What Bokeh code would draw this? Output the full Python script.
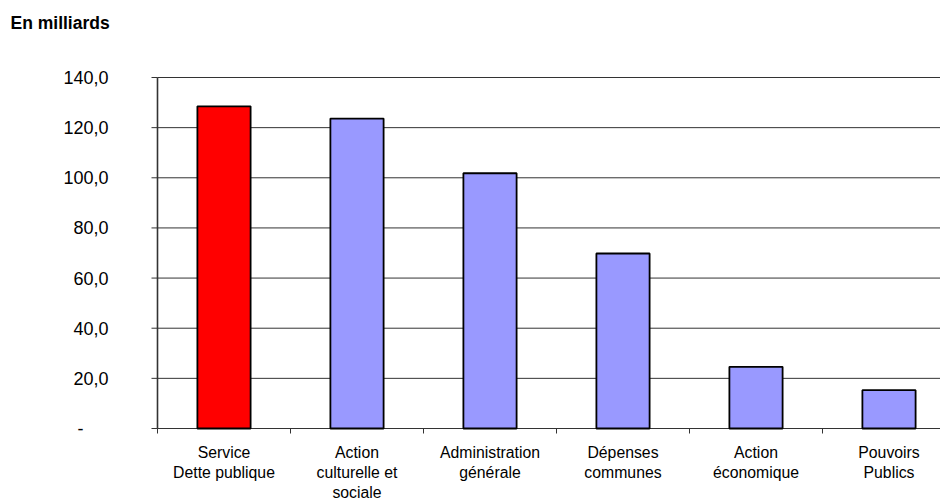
from bokeh.plotting import figure
from bokeh.models import ColumnDataSource, Range1d
from bokeh.core.properties import value
from bokeh.embed import file_html
from bokeh.resources import INLINE

# Budget by function, in billions
categories = [
    "Service\nDette publique",
    "Action\nculturelle et\nsociale",
    "Administration\ngénérale",
    "Dépenses\ncommunes",
    "Action\néconomique",
    "Pouvoirs\nPublics",
]
values = [128.5, 123.6, 101.8, 69.8, 24.6, 15.3]
colors = ["#FF0000", "#9999FF", "#9999FF", "#9999FF", "#9999FF", "#9999FF"]
y_ticks = [0, 20, 40, 60, 80, 100, 120, 140]
y_labels = ["-\u2007\u2007\u2008", "20,0", "40,0", "60,0", "80,0", "100,0", "120,0", "140,0"]
title = "En milliards"

FONT = "Liberation Sans"
AXIS = "#333333"

n = len(categories)
centers = [i + 0.5 for i in range(n)]
bars = ColumnDataSource(dict(x=centers, top=values, color=colors, name=categories))
ticks = ColumnDataSource(dict(y=y_ticks, label=y_labels))

# Scales: one category = 133 px, 140 units = 351 px; the plot body starts
# 157 px from the left and 77 px from the top of the canvas.
PX_X = 133
PX_Y = 351 / 140
x_end = n  # right edge of the last category
y_top = max(y_ticks)

p = figure(
    width=940, height=499,
    output_backend="svg", toolbar_location=None,
    x_range=Range1d(-157 / PX_X, 783 / PX_X),
    y_range=Range1d(-71 / PX_Y, y_top + 77 / PX_Y),
    x_axis_location=None, y_axis_location=None,
    min_border=0,
)
p.outline_line_color = None
p.background_fill_color = "white"
p.border_fill_color = "white"
p.xgrid.grid_line_color = None
p.ygrid.grid_line_color = None

# horizontal gridlines (the one at 0 is the category axis line)
p.segment(x0=0, y0="y", x1=x_end, y1="y", source=ticks,
          line_color=AXIS, line_width=1)

# value axis line and its outward ticks
p.segment(x0=[0], y0=[0], x1=[0], y1=[y_top], line_color=AXIS, line_width=1.6)
p.segment(x0=-6 / PX_X, y0="y", x1=0, y1="y", source=ticks,
          line_color=AXIS, line_width=1)

# category separators below the axis
bounds = list(range(n + 1))
p.segment(x0=bounds, y0=[0] * (n + 1), x1=bounds, y1=[-5 / PX_Y] * (n + 1),
          line_color=AXIS, line_width=1)

p.vbar(x="x", top="top", bottom=0, width=0.4, source=bars,
       fill_color="color", line_color="black", line_width=1.8)

# value labels
p.text(x=-49 / PX_X, y="y", text="label", source=ticks,
       text_align="right", text_baseline="middle",
       text_font=value(FONT), text_font_size="18px", text_color="black")

# category names under each bar
p.text(x="x", y=-15 / PX_Y, text="name", source=bars,
       text_align="center", text_baseline="top",
       text_font=value(FONT), text_font_size="15.8px", text_line_height=1.2,
       text_color="black")

# unit caption
p.text(x=[-147 / PX_X], y=[(428 - 22.5) / PX_Y], text=[title],
       text_align="left", text_baseline="alphabetic",
       text_font=value(FONT), text_font_size="17.5px", text_font_style="bold",
       text_color="black")

open("out.html", "w").write(file_html(p, INLINE))
